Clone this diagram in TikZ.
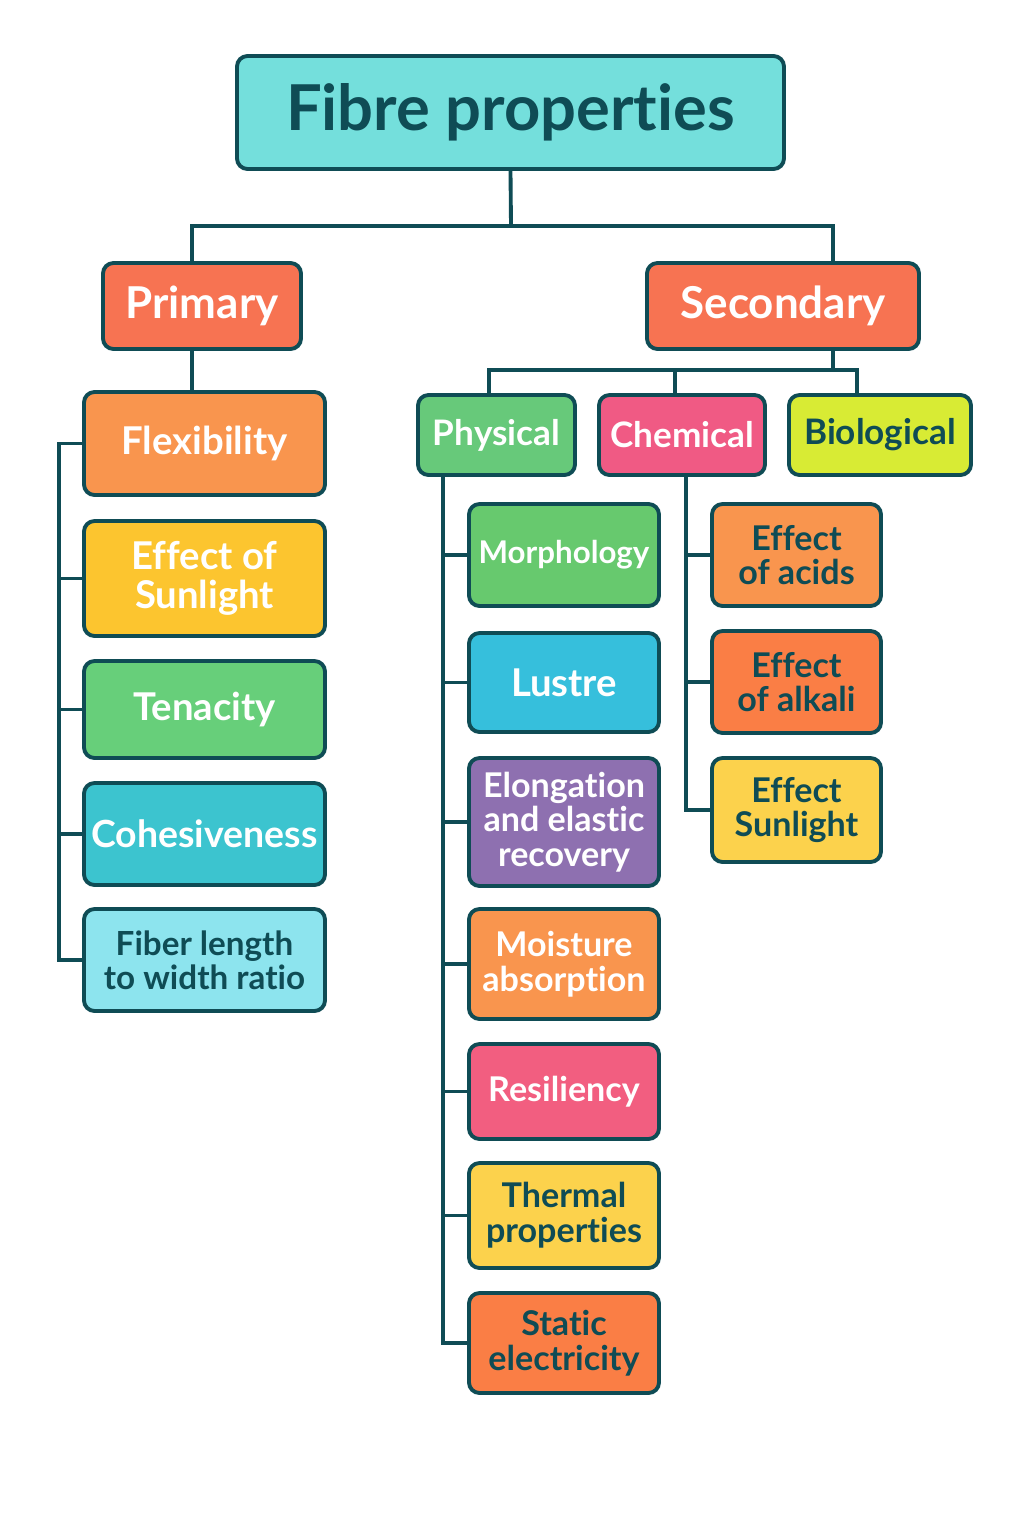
\documentclass[tikz,border=0pt]{standalone}
\usepackage{fontspec}
\setmainfont{Lato}[Ligatures=NoCommon, RawFeature={-liga;-dlig;-calt}]
\usetikzlibrary{backgrounds}
\definecolor{edge}{HTML}{0F4C55}
\definecolor{cTitle}{HTML}{74DFDC}
\definecolor{cCoral}{HTML}{F77352}
\definecolor{cOrange}{HTML}{F9954E}
\definecolor{cYellow}{HTML}{FCC52F}
\definecolor{cGreen}{HTML}{67CF7A}
\definecolor{cTeal}{HTML}{3CC4CF}
\definecolor{cLightCyan}{HTML}{8DE4EE}
\definecolor{cPhys}{HTML}{67C97A}
\definecolor{cPink}{HTML}{F05A84}
\definecolor{cLime}{HTML}{D8EB34}
\definecolor{cMorph}{HTML}{67C96E}
\definecolor{cBlue}{HTML}{36BFDC}
\definecolor{cPurple}{HTML}{8E70B0}
\definecolor{cRes}{HTML}{F25E80}
\definecolor{cSoftYellow}{HTML}{FCD24C}
\definecolor{cDeepOrange}{HTML}{FA7E45}
\newcommand\fTitle{\fontsize{36}{38}\selectfont}
\newcommand\fBig{\fontsize{25}{26}\selectfont}
\newcommand\fA{\fontsize{21.8}{22.5}\selectfont}
\newcommand\fC{\fontsize{20}{21}\selectfont}
\newcommand\fB{\fontsize{19.4}{19.8}\selectfont}
\newcommand\fM{\fontsize{17.8}{19}\selectfont}
\newcommand\fF{\fontsize{18.9}{19.5}\selectfont}
\newcommand\nl{\kern0pt }
\begin{document}
\begin{tikzpicture}[x=0.02cm,y=-0.02cm,
  box/.style={draw=edge, line width=2.2pt, rounded corners=6pt, align=center, font=\bfseries\fA, inner sep=0pt, text=white},
  dark/.style={text=edge},
  wh/.style 2 args={minimum width=#1*0.02cm, minimum height=#2*0.02cm},
  conn/.style={draw=edge, line width=2.2pt, line join=miter}]
\useasboundingbox (0,0) rectangle (1024,1536);

% top level
\node[box, dark, fill=cTitle, wh={547}{113}, font=\bfseries\fTitle] (title) at (510.5,112.5) {Fibre propert\nl ies};
\node[box, fill=cCoral, wh={198}{86}, font=\bfseries\fBig] (prim) at (202,306) {Primary};
\node[box, fill=cCoral, wh={272}{86}, font=\bfseries\fBig] (sec) at (783,306) {Secondary};

% primary children
\node[box, fill=cOrange, wh={241}{103}] (flex) at (204.5,443.5) {Flexibility};
\node[box, fill=cYellow, wh={241}{115}] (sun1) at (204.5,578.5) {Effect of\\Sunlight};
\node[box, fill=cGreen, wh={241}{97}] (ten) at (204.5,709.5) {Tenacity};
\node[box, fill=cTeal, wh={241}{102}, font=\bfseries\fontsize{21.3}{22}\selectfont] (coh) at (204.5,834) {Cohesiveness};
\node[box, dark, fill=cLightCyan, wh={241}{102}, font=\bfseries\fF] (fib) at (204.5,960) {Fiber length\\to width ratio};

% secondary children
\node[box, fill=cPhys, wh={157}{80}, font=\bfseries\fC] (phys) at (496.5,435) {Physical};
\node[box, fill=cPink, wh={166}{80}, font=\bfseries\fC] (chem) at (682,435) {Chemical};
\node[box, dark, fill=cLime, wh={182}{80}, font=\bfseries\fC] (bio) at (880,435) {Biological};

% physical children
\node[box, fill=cMorph, wh={190}{102}, font=\bfseries\fM] (morph) at (564,555) {Morphology};
\node[box, fill=cBlue, wh={190}{99}, font=\bfseries\fA] (lus) at (564,682.5) {Lustre};
\node[box, fill=cPurple, wh={190}{128}, font=\bfseries\fB] (elo) at (564,822) {Elongat\nl ion\\and elast\nl ic\\recovery};
\node[box, fill=cOrange, wh={190}{110}, font=\bfseries\fB] (moi) at (564,964) {Moisture\\absorpt\nl ion};
\node[box, fill=cRes, wh={190}{95}, font=\bfseries\fB] (res) at (564,1091.5) {Resiliency};
\node[box, dark, fill=cSoftYellow, wh={190}{105}, font=\bfseries\fB] (the) at (564,1215.5) {Thermal\\propert\nl ies};
\node[box, dark, fill=cDeepOrange, wh={190}{100}, font=\bfseries\fB] (sta) at (564,1343) {Stat\nl ic\\electricity};

% chemical children
\node[box, dark, fill=cOrange, wh={169}{102}, font=\bfseries\fB] (acid) at (796.5,555) {Effect\\of acids};
\node[box, dark, fill=cDeepOrange, wh={169}{102}, font=\bfseries\fB] (alk) at (796.5,682) {Effect\\of alkali};
\node[box, dark, fill=cSoftYellow, wh={169}{104}, font=\bfseries\fB] (sun2) at (796.5,810) {Effect\\Sunlight};

\begin{scope}[on background layer]
  \fill[white] (0,0) rectangle (1024,1536);
  \coordinate (jt) at (511,226);
  \coordinate (jp) at (192,226);
  \coordinate (js) at (833,226);
  \draw[conn] (title.south) -- (jt);
  \draw[conn] (jp |- prim.north) -- (jp) -- (js) -- (js |- sec.north);
  \draw[conn] (jp |- prim.south) -- (jp |- flex.north);
  \coordinate (lb) at (59,0);
  \draw[conn] (flex.west) -- (lb |- flex.west) -- (lb |- fib.west) -- (fib.west);
  \foreach \n in {sun1,ten,coh} \draw[conn] (lb |- \n.west) -- (\n.west);

  \coordinate (j2) at (833,370);
  \coordinate (jph) at (489,370);
  \coordinate (jch) at (675,370);
  \coordinate (jbi) at (857,370);
  \draw[conn] (j2 |- sec.south) -- (j2);
  \draw[conn] (jph |- phys.north) -- (jph) -- (jbi) -- (jbi |- bio.north);
  \draw[conn] (jch) -- (jch |- chem.north);

  \coordinate (pb) at (443,0);
  \draw[conn] (pb |- phys.south) -- (pb |- sta.west) -- (sta.west);
  \foreach \n in {morph,lus,elo,moi,res,the} \draw[conn] (pb |- \n.west) -- (\n.west);

  \coordinate (cb) at (686,0);
  \draw[conn] (cb |- chem.south) -- (cb |- sun2.west) -- (sun2.west);
  \foreach \n in {acid,alk} \draw[conn] (cb |- \n.west) -- (\n.west);
\end{scope}
\end{tikzpicture}
\end{document}
